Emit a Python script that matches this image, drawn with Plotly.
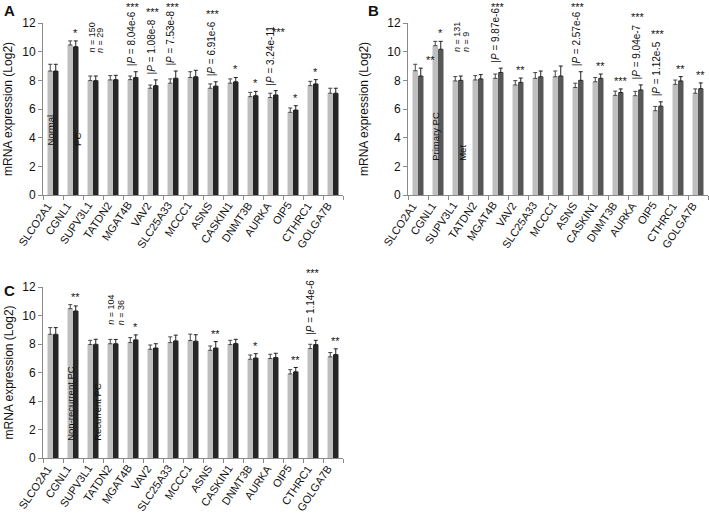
import plotly.graph_objects as go

# ---------------- data ----------------
genes = ["SLCO2A1", "CGNL1", "SUPV3L1", "TATDN2", "MGAT4B", "VAV2", "SLC25A33", "MCCC1",
         "ASNS", "CASKIN1", "DNMT3B", "AURKA", "OIP5", "CTHRC1", "GOLGA7B"]
y_ticks = [0, 2, 4, 6, 8, 10, 12]

# Panel A: Normal vs PC
a_groups = ["Normal", "PC"]
a_light = [8.65, 10.47, 7.98, 8.03, 8.05, 7.45, 7.80, 8.20, 7.45, 7.80, 6.86, 6.80, 5.77, 7.63, 7.10]
a_light_err = [0.47, 0.28, 0.32, 0.30, 0.25, 0.22, 0.30, 0.40, 0.30, 0.30, 0.30, 0.30, 0.30, 0.30, 0.35]
a_dark = [8.65, 10.35, 7.98, 8.05, 8.20, 7.63, 8.15, 8.25, 7.60, 7.90, 6.93, 6.98, 5.93, 7.75, 7.10]
a_dark_err = [0.47, 0.40, 0.32, 0.30, 0.40, 0.40, 0.50, 0.45, 0.30, 0.30, 0.30, 0.30, 0.30, 0.30, 0.35]
a_n = ["150", "29"]
a_n_gene = "SUPV3L1"
a_stars = {"CGNL1": "*", "CASKIN1": "*", "DNMT3B": "*", "OIP5": "*", "CTHRC1": "*"}
a_pvals = {"MGAT4B": "8.04e-6", "VAV2": "1.08e-8", "SLC25A33": "7.53e-8",
           "ASNS": "6.91e-6", "AURKA": "3.24e-11"}

# Panel B: Primary PC vs Met
b_groups = ["Primary PC", "Met"]
b_light = [8.67, 10.42, 7.96, 8.03, 8.14, 7.68, 8.14, 8.25, 7.50, 7.90, 6.95, 6.93, 5.88, 7.72, 7.10]
b_light_err = [0.45, 0.30, 0.30, 0.30, 0.30, 0.30, 0.40, 0.40, 0.30, 0.30, 0.30, 0.30, 0.30, 0.30, 0.30]
b_dark = [8.30, 10.17, 8.00, 8.10, 8.55, 7.86, 8.25, 8.30, 8.00, 8.14, 7.15, 7.33, 6.20, 7.96, 7.42]
b_dark_err = [0.55, 0.55, 0.30, 0.30, 0.30, 0.30, 0.40, 0.70, 0.60, 0.30, 0.25, 0.35, 0.30, 0.30, 0.40]
b_n = ["131", "9"]
b_n_gene = "SUPV3L1"
b_stars = {"SLCO2A1": "**", "CGNL1": "*", "VAV2": "**", "CASKIN1": "**", "DNMT3B": "***",
           "CTHRC1": "**", "GOLGA7B": "**"}
b_pvals = {"MGAT4B": "9.87e-6", "ASNS": "2.57e-6", "AURKA": "9.04e-7", "OIP5": "1.12e-5"}

# Panel C: Non-recurrent PC vs Recurrent PC
c_groups = ["Non-recurrent PC", "Recurrent PC"]
c_light = [8.68, 10.48, 7.96, 8.02, 8.10, 7.63, 8.10, 8.24, 7.56, 7.96, 6.93, 6.98, 5.90, 7.68, 7.10]
c_light_err = [0.47, 0.28, 0.30, 0.30, 0.35, 0.30, 0.40, 0.45, 0.30, 0.30, 0.30, 0.30, 0.30, 0.30, 0.30]
c_dark = [8.68, 10.32, 7.98, 8.02, 8.29, 7.72, 8.22, 8.20, 7.72, 8.03, 7.02, 7.05, 6.05, 7.96, 7.26]
c_dark_err = [0.47, 0.35, 0.35, 0.30, 0.35, 0.30, 0.40, 0.45, 0.45, 0.30, 0.30, 0.30, 0.30, 0.30, 0.40]
c_n = ["104", "36"]
c_n_gene = "TATDN2"
c_stars = {"CGNL1": "**", "MGAT4B": "*", "ASNS": "**", "DNMT3B": "*", "OIP5": "**", "GOLGA7B": "**"}
c_pvals = {"CTHRC1": "1.14e-6"}

# ---------------- layout constants ----------------
W, H = 709, 514
FONT = "Liberation Sans, Arial, sans-serif"
TXT = "#111111"
AXC = "#8a8a8a"
LIGHT = "#bfbfbf"
YMAX = 12

panels = [
    dict(key="A", ax="", x0=43, x1=343, ytop=23, ybot=195, dark="#262626",
         light=a_light, light_err=a_light_err, dk=a_dark, dk_err=a_dark_err,
         groups=a_groups, n=a_n, n_gene=a_n_gene, stars=a_stars, pvals=a_pvals,
         letter_xy=(2, 0), title_x=8, group_y=3.3, n_y=9.77, group_genes=(0, 1)),
    dict(key="B", ax="2", x0=408, x1=708, ytop=23, ybot=195, dark="#575757",
         light=b_light, light_err=b_light_err, dk=b_dark, dk_err=b_dark_err,
         groups=b_groups, n=b_n, n_gene=b_n_gene, stars=b_stars, pvals=b_pvals,
         letter_xy=(366, 0), title_x=364, group_y=2.23, n_y=9.8, group_genes=(1, 2)),
    dict(key="C", ax="3", x0=43, x1=343, ytop=287, ybot=458, dark="#262626",
         light=c_light, light_err=c_light_err, dk=c_dark, dk_err=c_dark_err,
         groups=c_groups, n=c_n, n_gene=c_n_gene, stars=c_stars, pvals=c_pvals,
         letter_xy=(2, 280), title_x=8, group_y=1.05, n_y=9.17, group_genes=(1, 2)),
]

# nudges (px) for a few labels that sit off their usual spot
star_nudge = {("B", "SLCO2A1"): (10, -4)}
pstar_nudge = {("A", "AURKA"): (6, -14)}

CW = {'|': 0.26, 'P': 0.667, ' ': 0.278, '=': 0.584, '.': 0.278, 'e': 0.556, '-': 0.333}


def text_w(s, size):
    return sum(CW.get(ch, 0.556) for ch in s) * size


BAR_HALF = 2.75  # px offset of each bar from category centre

fig = go.Figure()
annotations = []
layout_axes = {}

for p in panels:
    xa = "x" + p["ax"]
    ya = "y" + p["ax"]
    fig.add_trace(go.Bar(
        x=genes, y=p["light"], name=p["groups"][0], xaxis=xa, yaxis=ya,
        marker=dict(color=LIGHT, line=dict(width=0)),
        error_y=dict(type="data", array=p["light_err"], arrayminus=[0] * len(genes),
                     symmetric=False, color="#454545", thickness=1, width=2),
        showlegend=False, hoverinfo="skip"))
    fig.add_trace(go.Bar(
        x=genes, y=p["dk"], name=p["groups"][1], xaxis=xa, yaxis=ya,
        marker=dict(color=p["dark"], line=dict(width=0)),
        error_y=dict(type="data", array=p["dk_err"], arrayminus=[0] * len(genes),
                     symmetric=False, color="#202020", thickness=1, width=2),
        showlegend=False, hoverinfo="skip"))

    xd = [p["x0"] / W, p["x1"] / W]
    yd = [1 - p["ybot"] / H, 1 - p["ytop"] / H]
    xname = "xaxis" + p["ax"]
    yname = "yaxis" + p["ax"]
    layout_axes[xname] = dict(
        domain=xd, anchor=ya, type="category", categoryorder="array", categoryarray=genes,
        showline=True, linecolor=AXC, linewidth=1, ticks="outside", tickson="boundaries",
        ticklen=4, tickcolor=AXC, showticklabels=False, showgrid=False, zeroline=False,
        automargin=False, range=[-0.5, len(genes) - 0.5], fixedrange=True)
    layout_axes[yname] = dict(
        domain=yd, anchor=xa, range=[0, YMAX], tickvals=y_ticks,
        showline=True, linecolor=AXC, linewidth=1, ticks="outside", ticklen=4,
        tickcolor=AXC, showgrid=False, zeroline=False, automargin=False, fixedrange=True,
        tickfont=dict(family=FONT, size=12, color=TXT))

    top = {g: max(l + le, d + de) for g, l, le, d, de in
           zip(genes, p["light"], p["light_err"], p["dk"], p["dk_err"])}
    ppu = (p["ybot"] - p["ytop"]) / YMAX  # pixels per unit

    # rotated category labels
    for g in genes:
        annotations.append(dict(text=g, xref=xa, yref=ya, x=g, y=0, xanchor="right",
                                yanchor="top", xshift=4, yshift=-2, textangle=-56,
                                showarrow=False, font=dict(family=FONT, size=11, color=TXT)))
    # panel letter
    lx, ly = p["letter_xy"]
    annotations.append(dict(text="<b>%s</b>" % p["key"], xref="paper", yref="paper",
                            x=lx / W, y=1 - ly / H, xanchor="left", yanchor="top",
                            showarrow=False, font=dict(family=FONT, size=15, color=TXT)))
    # y-axis title
    annotations.append(dict(text="mRNA expression (Log2)", xref="paper", yref="paper",
                            x=p["title_x"] / W, y=1 - (p["ytop"] + p["ybot"]) / 2 / H,
                            xanchor="center", yanchor="middle", textangle=-90,
                            showarrow=False, font=dict(family=FONT, size=12, color=TXT)))
    # group labels (vertical, inside bars)
    g0, g1 = p["group_genes"]
    annotations.append(dict(text=p["groups"][0], xref=xa, yref=ya, x=genes[g0],
                            xshift=-BAR_HALF, y=p["group_y"], yanchor="bottom", xanchor="center",
                            textangle=-90, showarrow=False,
                            font=dict(family=FONT, size=9.5, color=TXT)))
    annotations.append(dict(text=p["groups"][1], xref=xa, yref=ya, x=genes[g1],
                            xshift=BAR_HALF + 1, y=p["group_y"], yanchor="bottom", xanchor="center",
                            textangle=-90, showarrow=False,
                            font=dict(family=FONT, size=9.5, color=TXT)))
    # n labels
    for val, dx in zip(p["n"], [-1.5, 7.5]):
        annotations.append(dict(text="<i>n</i> = %s" % val, xref=xa, yref=ya, x=p["n_gene"],
                                xshift=dx, y=p["n_y"], yanchor="bottom", xanchor="center",
                                textangle=-90, showarrow=False,
                                font=dict(family=FONT, size=9, color=TXT)))
    # significance stars
    for g, s in p["stars"].items():
        dx, dy = star_nudge.get((p["key"], g), (0, 0))
        annotations.append(dict(text=s, xref=xa, yref=ya, x=g, xshift=BAR_HALF + dx,
                                y=top[g], yanchor="bottom", yshift=dy, showarrow=False,
                                font=dict(family=FONT, size=11, color=TXT)))
    # P values
    for g, pv in p["pvals"].items():
        tw = text_w("|P = " + pv, 10)
        annotations.append(dict(text="|<i>P</i> = " + pv, xref=xa, yref=ya, x=g, xshift=-2,
                                y=top[g], yanchor="bottom", yshift=3, textangle=-90,
                                showarrow=False, font=dict(family=FONT, size=10, color=TXT)))
        dx, dy = pstar_nudge.get((p["key"], g), (0, 0))
        ypix = p["ytop"] + (YMAX - top[g]) * ppu
        shift = min(3 + tw + 2 + dy, ypix - 15)  # keep the stars inside the picture
        annotations.append(dict(text="***", xref=xa, yref=ya, x=g, xshift=dx,
                                y=top[g], yanchor="bottom", yshift=shift,
                                showarrow=False, font=dict(family=FONT, size=11, color=TXT)))

fig.update_layout(
    width=W, height=H, autosize=False, margin=dict(l=0, r=0, t=0, b=0, pad=0),
    paper_bgcolor="white", plot_bgcolor="white",
    barmode="group", bargap=0.45, bargroupgap=0, hovermode=False, dragmode=False,
    font=dict(family=FONT, size=12, color=TXT),
    annotations=annotations, **layout_axes)

# remove the browser's default 8px page margin so the figure sits at the window origin
fig.write_html("out.html", config={"displayModeBar": False, "staticPlot": True},
               post_script="document.body.style.margin='0px';")
